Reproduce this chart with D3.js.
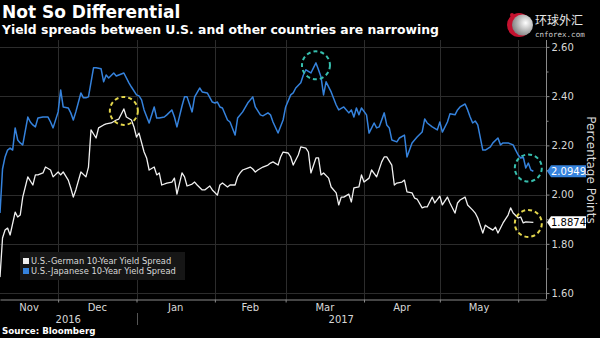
<!DOCTYPE html>
<html>
<head>
<meta charset="utf-8">
<script src="https://cdnjs.cloudflare.com/ajax/libs/d3/7.8.5/d3.min.js"></script>
<style>
  html, body { margin: 0; padding: 0; background: #000; }
  svg { display: block; }
</style>
</head>
<body>
<div id="chart"></div>
<script>
// U.S.-Japanese 10-year spread, percentage points
var japanDates = [
  "2016-11-08","2016-11-09","2016-11-10","2016-11-11","2016-11-12","2016-11-13","2016-11-14","2016-11-15","2016-11-16","2016-11-17",
  "2016-11-19","2016-11-20","2016-11-21","2016-11-22","2016-11-23","2016-11-25","2016-11-27","2016-11-28","2016-11-29","2016-12-01",
  "2016-12-02","2016-12-03","2016-12-05","2016-12-06","2016-12-07","2016-12-08","2016-12-10","2016-12-11","2016-12-12","2016-12-13",
  "2016-12-15","2016-12-16","2016-12-18","2016-12-19","2016-12-20","2016-12-21","2016-12-23","2016-12-24","2016-12-25","2016-12-27",
  "2016-12-29","2016-12-30","2017-01-01","2017-01-02","2017-01-03","2017-01-04","2017-01-06","2017-01-08","2017-01-09","2017-01-10",
  "2017-01-12","2017-01-13","2017-01-15","2017-01-16","2017-01-17","2017-01-19","2017-01-20","2017-01-21","2017-01-23","2017-01-24",
  "2017-01-26","2017-01-27","2017-01-29","2017-01-31","2017-02-01","2017-02-02","2017-02-03","2017-02-04","2017-02-06","2017-02-07",
  "2017-02-09","2017-02-10","2017-02-12","2017-02-14","2017-02-16","2017-02-17","2017-02-19","2017-02-20","2017-02-22","2017-02-23",
  "2017-02-24","2017-02-26","2017-02-28","2017-03-01","2017-03-03","2017-03-04","2017-03-05","2017-03-07","2017-03-08","2017-03-09",
  "2017-03-11","2017-03-12","2017-03-13","2017-03-14","2017-03-15","2017-03-16","2017-03-17","2017-03-19","2017-03-21","2017-03-22",
  "2017-03-24","2017-03-26","2017-03-27","2017-03-28","2017-03-29","2017-03-30","2017-03-31","2017-04-02","2017-04-03","2017-04-05",
  "2017-04-06","2017-04-07","2017-04-09","2017-04-10","2017-04-11","2017-04-12","2017-04-14","2017-04-15","2017-04-17","2017-04-18",
  "2017-04-20","2017-04-22","2017-04-24","2017-04-25","2017-04-26","2017-04-28","2017-04-30","2017-05-01","2017-05-02","2017-05-04",
  "2017-05-05","2017-05-07","2017-05-08","2017-05-09","2017-05-11","2017-05-12","2017-05-13","2017-05-14","2017-05-15","2017-05-16",
  "2017-05-18","2017-05-19","2017-05-21","2017-05-22","2017-05-24","2017-05-25","2017-05-26","2017-05-28","2017-05-30","2017-05-31",
  "2017-06-01","2017-06-02","2017-06-03","2017-06-04","2017-06-05","2017-06-06","2017-06-07"
];
var japanValues = [
  1.925,2.104,2.153,2.181,2.189,2.181,2.271,2.222,2.210,2.202,
  2.315,2.295,2.283,2.275,2.311,2.315,2.315,2.295,2.271,2.336,
  2.425,2.356,2.352,2.332,2.303,2.336,2.413,2.393,2.393,2.397,
  2.515,2.515,2.511,2.458,2.486,2.474,2.494,2.482,2.486,2.494,
  2.454,2.437,2.405,2.401,2.385,2.344,2.291,2.356,2.311,2.311,
  2.315,2.324,2.344,2.315,2.275,2.360,2.397,2.397,2.336,2.397,
  2.433,2.417,2.413,2.376,2.372,2.376,2.356,2.352,2.303,2.295,
  2.242,2.311,2.336,2.372,2.397,2.356,2.324,2.320,2.332,2.324,
  2.295,2.250,2.303,2.356,2.405,2.413,2.433,2.454,2.486,2.507,
  2.494,2.515,2.535,2.507,2.478,2.405,2.458,2.417,2.364,2.344,
  2.356,2.332,2.344,2.315,2.352,2.324,2.352,2.324,2.250,2.291,
  2.271,2.275,2.332,2.283,2.271,2.222,2.214,2.230,2.242,2.153,
  2.210,2.234,2.254,2.307,2.291,2.275,2.263,2.295,2.254,2.295,
  2.328,2.324,2.344,2.356,2.368,2.344,2.315,2.291,2.299,2.283,
  2.181,2.181,2.194,2.210,2.230,2.202,2.210,2.210,2.202,2.181,
  2.161,2.149,2.153,2.108,2.128,2.100,2.0949
];

// U.S.-German 10-year spread, percentage points
var germanDates = [
  "2016-11-08","2016-11-09","2016-11-10","2016-11-11","2016-11-12","2016-11-14","2016-11-15","2016-11-16","2016-11-17","2016-11-18",
  "2016-11-19","2016-11-21","2016-11-22","2016-11-23","2016-11-25","2016-11-26","2016-11-28","2016-11-29","2016-12-01","2016-12-02",
  "2016-12-03","2016-12-05","2016-12-06","2016-12-07","2016-12-08","2016-12-10","2016-12-12","2016-12-13","2016-12-14","2016-12-16",
  "2016-12-17","2016-12-19","2016-12-20","2016-12-22","2016-12-24","2016-12-25","2016-12-27","2016-12-28","2016-12-30","2016-12-31",
  "2017-01-01","2017-01-02","2017-01-04","2017-01-05","2017-01-06","2017-01-08","2017-01-09","2017-01-10","2017-01-11","2017-01-13",
  "2017-01-15","2017-01-16","2017-01-17","2017-01-19","2017-01-20","2017-01-21","2017-01-23","2017-01-24","2017-01-25","2017-01-27",
  "2017-01-28","2017-01-30","2017-01-31","2017-02-02","2017-02-03","2017-02-04","2017-02-06","2017-02-07","2017-02-09","2017-02-10",
  "2017-02-11","2017-02-12","2017-02-14","2017-02-15","2017-02-16","2017-02-17","2017-02-18","2017-02-20","2017-02-22","2017-02-23",
  "2017-02-24","2017-02-26","2017-02-27","2017-02-28","2017-03-02","2017-03-03","2017-03-04","2017-03-06","2017-03-07","2017-03-09",
  "2017-03-10","2017-03-11","2017-03-13","2017-03-14","2017-03-15","2017-03-16","2017-03-18","2017-03-19","2017-03-21","2017-03-22",
  "2017-03-23","2017-03-24","2017-03-26","2017-03-27","2017-03-28","2017-03-30","2017-03-31","2017-04-01","2017-04-03","2017-04-04",
  "2017-04-06","2017-04-08","2017-04-09","2017-04-10","2017-04-12","2017-04-13","2017-04-14","2017-04-16","2017-04-17","2017-04-18",
  "2017-04-20","2017-04-21","2017-04-22","2017-04-24","2017-04-25","2017-04-26","2017-04-28","2017-04-29","2017-05-01","2017-05-02",
  "2017-05-04","2017-05-05","2017-05-07","2017-05-08","2017-05-09","2017-05-11","2017-05-12","2017-05-14","2017-05-15","2017-05-16",
  "2017-05-18","2017-05-19","2017-05-20","2017-05-22","2017-05-23","2017-05-24","2017-05-26","2017-05-28","2017-05-29","2017-05-30",
  "2017-06-01","2017-06-02","2017-06-03","2017-06-04","2017-06-07"
];
var germanValues = [
  1.665,1.824,1.856,1.864,1.836,1.929,1.909,1.917,1.990,2.031,
  2.072,2.039,2.080,2.080,2.088,2.112,2.100,2.072,2.092,2.080,
  2.092,2.059,2.027,1.990,2.019,2.092,2.072,2.112,2.263,2.230,
  2.271,2.283,2.287,2.291,2.303,2.307,2.348,2.315,2.303,2.275,
  2.234,2.250,2.173,2.149,2.100,2.112,2.080,2.088,2.039,2.047,
  2.051,2.067,2.002,2.088,2.072,2.035,2.043,2.051,2.039,2.019,
  2.019,2.035,2.019,1.998,2.039,2.047,2.031,2.039,2.039,2.072,
  2.088,2.100,2.108,2.112,2.104,2.092,2.100,2.112,2.120,2.128,
  2.133,2.120,2.153,2.173,2.169,2.153,2.120,2.161,2.194,2.189,
  2.173,2.088,2.149,2.149,2.080,2.088,2.067,2.031,2.007,1.958,
  1.990,1.990,2.002,1.970,2.027,2.031,2.080,2.051,2.067,2.100,
  2.072,2.133,2.153,2.153,2.120,2.039,2.047,2.051,2.059,2.011,
  2.007,1.986,1.982,1.946,1.950,1.950,1.990,1.966,1.994,1.958,
  1.990,1.966,1.925,1.966,1.978,1.990,1.958,1.937,1.925,1.905,
  1.844,1.876,1.868,1.856,1.868,1.844,1.885,1.917,1.946,1.925,
  1.905,1.909,1.885,1.889,1.8874
];

var seriesNames = ["U.S.-German 10-Year Yield Spread", "U.S.-Japanese 10-Year Yield Spread"];
var yTicks = [1.6, 1.8, 2.0, 2.2, 2.4, 2.6];
var yMinorTicks = [1.7, 1.9, 2.1, 2.3, 2.5];
var yearLabels = ["2016", "2017"];

// dashed rings called out on the chart
var ringDates = ["2016-12-27", "2017-03-13", "2017-06-05", "2017-06-05"];
var ringValues = [2.340, 2.525, 2.108, 1.883];
var ringSeries = ["german", "japan", "japan", "german"];

var parseDate = d3.timeParse("%Y-%m-%d");

var width = 600, height = 338;
var plot = { left: 0, right: 546, top: 40, bottom: 299 };

var colors = {
  german: "#f0f0f0",
  japan: "#3582dc",
  grid: "#2c2c2c",
  axis: "#8a8a8a",
  text: "#d8d8d8",
  ringGerman: "#e3d64c",
  ringJapan: "#37bfae"
};

var svg = d3.select("#chart").append("svg")
    .attr("width", width)
    .attr("height", height)
    .style("background", "#000");

var x = d3.scaleTime()
    .domain([parseDate("2016-11-08"), parseDate("2017-06-12")])
    .range([plot.left, plot.right]);

var y = d3.scaleLinear()
    .domain([1.576, 2.628])
    .range([plot.bottom, plot.top]);

var monthStarts = d3.timeMonth.range(x.domain()[0], x.domain()[1]);

// grid
svg.append("g")
    .selectAll("line")
    .data(yTicks)
    .join("line")
    .attr("x1", plot.left).attr("x2", plot.right)
    .attr("y1", function(d) { return Math.round(y(d)) + 0.5; })
    .attr("y2", function(d) { return Math.round(y(d)) + 0.5; })
    .attr("stroke", colors.grid);

svg.append("g")
    .selectAll("line")
    .data(monthStarts)
    .join("line")
    .attr("x1", function(d) { return Math.round(x(d)) + 0.5; })
    .attr("x2", function(d) { return Math.round(x(d)) + 0.5; })
    .attr("y1", plot.top).attr("y2", plot.bottom)
    .attr("stroke", colors.grid);

// right axis
var yAxis = d3.axisRight(y)
    .tickValues(yTicks)
    .tickFormat(d3.format(".2f"))
    .tickSize(3)
    .tickSizeOuter(0)
    .tickPadding(2);

var yAxisG = svg.append("g")
    .attr("transform", "translate(" + (plot.right + 0.5) + ",0)")
    .call(yAxis);

yAxisG.select(".domain").attr("stroke", colors.axis).attr("d", "M0," + plot.top + "V" + plot.bottom);
yAxisG.selectAll(".tick line").attr("stroke", colors.axis);
yAxisG.selectAll(".tick text")
    .attr("fill", colors.text)
    .style("font", "10px 'DejaVu Sans'");

svg.append("g")
    .attr("transform", "translate(" + (plot.right + 0.5) + ",0)")
    .call(d3.axisRight(y).tickValues(yMinorTicks).tickFormat("").tickSize(2).tickSizeOuter(0))
    .call(function(g) { g.select(".domain").remove(); })
    .selectAll(".tick line").attr("stroke", colors.axis);

// bottom axis
var xAxisG = svg.append("g")
    .attr("transform", "translate(0," + (plot.bottom + 0.5) + ")")
    .call(d3.axisBottom(x).tickValues(monthStarts).tickFormat("").tickSize(3).tickSizeOuter(0));

xAxisG.select(".domain").attr("stroke", colors.axis);
xAxisG.selectAll(".tick line").attr("stroke", colors.axis);

// month names sit centred in each month
var monthLabels = [x.domain()[0]].concat(monthStarts.slice(0, -1));
svg.append("g")
    .selectAll("text")
    .data(monthLabels)
    .join("text")
    .attr("x", function(d) {
      var end = d3.timeMonth.offset(d3.timeMonth.floor(d), 1);
      return (x(d) + x(end)) / 2;
    })
    .attr("y", 311)
    .attr("text-anchor", "middle")
    .attr("fill", colors.text)
    .style("font", "10px 'DejaVu Sans'")
    .text(d3.timeFormat("%b"));

// year row
var yearStart = parseDate("2017-01-01");
var yearSpans = [[x.domain()[0], yearStart], [yearStart, x.domain()[1]]];
svg.append("g")
    .selectAll("text")
    .data(yearSpans)
    .join("text")
    .attr("x", function(d) { return (x(d[0]) + x(d[1])) / 2; })
    .attr("y", 323)
    .attr("text-anchor", "middle")
    .attr("fill", colors.text)
    .style("font", "10px 'DejaVu Sans'")
    .text(function(d, i) { return yearLabels[i]; });

svg.append("line")
    .attr("x1", Math.round(x(yearStart)) + 0.5).attr("x2", Math.round(x(yearStart)) + 0.5)
    .attr("y1", 313).attr("y2", 325)
    .attr("stroke", "#555");

// series
function toPoints(dates, values) {
  return dates.map(function(d, i) { return { date: parseDate(d), value: values[i] }; });
}
var japan = toPoints(japanDates, japanValues);
var german = toPoints(germanDates, germanValues);

var line = d3.line()
    .x(function(d) { return x(d.date); })
    .y(function(d) { return y(d.value); });

svg.append("path")
    .datum(japan)
    .attr("fill", "none")
    .attr("stroke", colors.japan)
    .attr("stroke-width", 1.5)
    .attr("stroke-linejoin", "round")
    .attr("d", line);

svg.append("path")
    .datum(german)
    .attr("fill", "none")
    .attr("stroke", colors.german)
    .attr("stroke-width", 1.3)
    .attr("stroke-linejoin", "round")
    .attr("d", line);

// dashed rings
svg.append("g")
    .selectAll("circle")
    .data(ringDates)
    .join("circle")
    .attr("cx", function(d) { return x(parseDate(d)); })
    .attr("cy", function(d, i) { return y(ringValues[i]); })
    .attr("r", function(d, i) { return i < 2 ? 14 : 13.5; })
    .attr("fill", "none")
    .attr("stroke", function(d, i) { return ringSeries[i] === "german" ? colors.ringGerman : colors.ringJapan; })
    .attr("stroke-width", 2)
    .attr("stroke-dasharray", "4,3");

// last-value tags on the axis
var lastTags = [
  { value: japanValues[japanValues.length - 1], fill: colors.japan, color: "#fff" },
  { value: germanValues[germanValues.length - 1], fill: "#fff", color: "#000" }
];
var tag = svg.append("g").selectAll("g")
    .data(lastTags)
    .join("g")
    .attr("transform", function(d) { return "translate(" + (plot.right + 1) + "," + y(d.value) + ")"; });

tag.append("path")
    .attr("d", "M0,0L4,-6H39V6H4Z")
    .attr("fill", function(d) { return d.fill; });

tag.append("text")
    .attr("x", 4)
    .attr("y", 3.6)
    .attr("fill", function(d) { return d.color; })
    .style("font", "10px 'DejaVu Sans'")
    .text(function(d) { return d.value.toFixed(4); });

// axis title
svg.append("text")
    .attr("transform", "translate(587,170) rotate(90)")
    .attr("text-anchor", "middle")
    .attr("fill", colors.text)
    .style("font", "12px 'DejaVu Sans'")
    .text("Percentage Points");

// legend
var legend = svg.append("g");
legend.append("rect")
    .attr("x", 20).attr("y", 252)
    .attr("width", 165).attr("height", 28)
    .attr("fill", "#161616");

var legendColors = [colors.german, colors.japan];
var legendItems = legend.selectAll("g")
    .data(seriesNames)
    .join("g")
    .attr("transform", function(d, i) { return "translate(23," + (258 + i * 10) + ")"; });

legendItems.append("rect")
    .attr("width", 6).attr("height", 6)
    .attr("fill", function(d, i) { return legendColors[i]; });

legendItems.append("text")
    .attr("x", 8).attr("y", 6)
    .attr("fill", colors.text)
    .style("font", "8.3px 'DejaVu Sans'")
    .text(function(d) { return d; });

// titles
svg.append("text")
    .attr("x", 2).attr("y", 18)
    .attr("fill", "#fff")
    .style("font", "bold 17px 'DejaVu Sans'")
    .text("Not So Differential");

svg.append("text")
    .attr("x", 2).attr("y", 34)
    .attr("fill", "#fff")
    .style("font", "bold 12.4px 'DejaVu Sans'")
    .text("Yield spreads between U.S. and other countries are narrowing");

svg.append("text")
    .attr("x", 2).attr("y", 334)
    .attr("fill", "#fff")
    .style("font", "bold 8.7px 'DejaVu Sans'")
    .text("Source: Bloomberg");

// cnforex mark, top right
var defs = svg.append("defs");
var grad = defs.append("radialGradient").attr("id", "ball").attr("cx", "65%").attr("cy", "40%").attr("r", "70%");
grad.append("stop").attr("offset", "0%").attr("stop-color", "#ffffff");
grad.append("stop").attr("offset", "100%").attr("stop-color", "#7a7a7a");

var mark = svg.append("g");
mark.append("circle").attr("cx", 519).attr("cy", 25).attr("r", 12).attr("fill", "#c4122f");
mark.append("circle").attr("cx", 522.5).attr("cy", 25).attr("r", 10.5).attr("fill", "url(#ball)");
mark.append("circle").attr("cx", 512).attr("cy", 15).attr("r", 2).attr("fill", "#c4122f");
mark.append("text")
    .attr("x", 535).attr("y", 25)
    .attr("fill", "#e8e8e8")
    .style("font", "12px 'Noto Sans CJK SC'")
    .text("环球外汇");
mark.append("text")
    .attr("x", 535).attr("y", 36.5)
    .attr("fill", "#d0d0d0")
    .style("font", "7.5px 'DejaVu Sans Mono'")
    .text("cnforex.com");
</script>
</body>
</html>
